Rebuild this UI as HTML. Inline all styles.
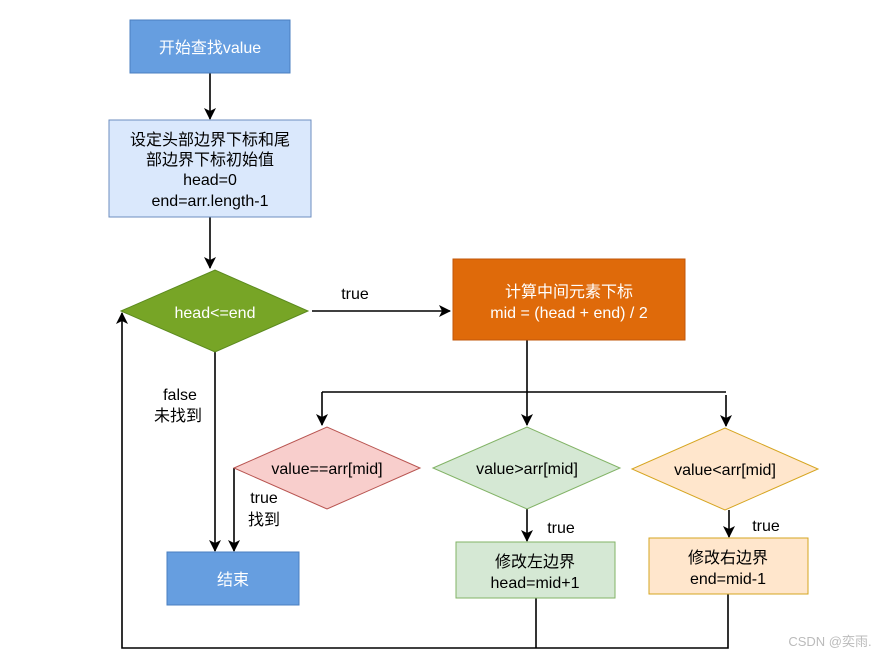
<!DOCTYPE html>
<html><head><meta charset="utf-8"><style>
body{margin:0;background:#fff}
svg text{font-family:"Liberation Sans","Noto Sans CJK SC",sans-serif;font-size:16px;text-anchor:middle}
</style></head><body>
<svg width="886" height="657" viewBox="0 0 886 657" xmlns="http://www.w3.org/2000/svg">
<defs><marker id="a" markerWidth="12" markerHeight="12" refX="11" refY="6" orient="auto" markerUnits="userSpaceOnUse"><path d="M0,0 L12,6 L0,12 L3,6 z" fill="#000"/></marker></defs>
<g stroke="#000" stroke-width="1.6" fill="none">
<line x1="210" y1="73" x2="210" y2="119" marker-end="url(#a)"/>
<line x1="210" y1="217" x2="210" y2="268" marker-end="url(#a)"/>
<line x1="312" y1="311" x2="450" y2="311" marker-end="url(#a)"/>
<polyline points="527,340 527,392"/>
<line x1="322" y1="392" x2="726" y2="392"/>
<line x1="322" y1="392" x2="322" y2="425" marker-end="url(#a)"/>
<line x1="527" y1="392" x2="527" y2="425" marker-end="url(#a)"/>
<line x1="726" y1="395" x2="726" y2="426" marker-end="url(#a)"/>
<line x1="215" y1="352" x2="215" y2="551" marker-end="url(#a)"/>
<polyline points="234,468 234,551" marker-end="url(#a)"/>
<line x1="527" y1="509" x2="527" y2="541" marker-end="url(#a)"/>
<line x1="729" y1="510" x2="729" y2="537" marker-end="url(#a)"/>
<polyline points="536,598 536,648"/>
<polyline points="728,594 728,648 122,648 122,313" marker-end="url(#a)"/>
</g>
<rect x="130" y="20" width="160" height="53" fill="#669ee0" stroke="#4a7fc0"/>
<text x="210" y="53" fill="#fff">开始查找value</text>
<rect x="109" y="120" width="202" height="97" fill="#dae8fc" stroke="#6c8ebf"/>
<text x="210" y="145">设定头部边界下标和尾</text>
<text x="210" y="165">部边界下标初始值</text>
<text x="210" y="185">head=0</text>
<text x="210" y="206">end=arr.length-1</text>
<polygon points="121,311 215,270 308,311 215,352" fill="#77a526" stroke="#5b8a1e"/>
<text x="215" y="318" fill="#fff">head&lt;=end</text>
<text x="355" y="299">true</text>
<rect x="453" y="259" width="232" height="81" fill="#df6a0a" stroke="#c0570a"/>
<text x="569" y="297" fill="#fff">计算中间元素下标</text>
<text x="569" y="318" fill="#fff">mid = (head + end) / 2</text>
<polygon points="234,468 327,427 420,468 327,509" fill="#f8cecc" stroke="#b85450"/>
<text x="327" y="474">value==arr[mid]</text>
<polygon points="433,468 527,427 620,468 527,509" fill="#d5e8d4" stroke="#82b366"/>
<text x="527" y="474">value&gt;arr[mid]</text>
<polygon points="632,469 725,428 818,469 725,510" fill="#ffe6cc" stroke="#d6a520"/>
<text x="725" y="475">value&lt;arr[mid]</text>
<text x="180" y="400">false</text>
<text x="178" y="421">未找到</text>
<text x="264" y="503">true</text>
<text x="264" y="525">找到</text>
<text x="561" y="533">true</text>
<text x="766" y="531">true</text>
<rect x="456" y="542" width="159" height="56" fill="#d5e8d4" stroke="#82b366"/>
<text x="535" y="567">修改左边界</text>
<text x="535" y="588">head=mid+1</text>
<rect x="649" y="538" width="159" height="56" fill="#ffe6cc" stroke="#d6a520"/>
<text x="728" y="563">修改右边界</text>
<text x="728" y="584">end=mid-1</text>
<rect x="167" y="552" width="132" height="53" fill="#669ee0" stroke="#4a7fc0"/>
<text x="233" y="585" fill="#fff">结束</text>
<text x="830" y="646" fill="#bbb" style="font-size:13px">CSDN @奕雨.</text>
</svg>
</body></html>
